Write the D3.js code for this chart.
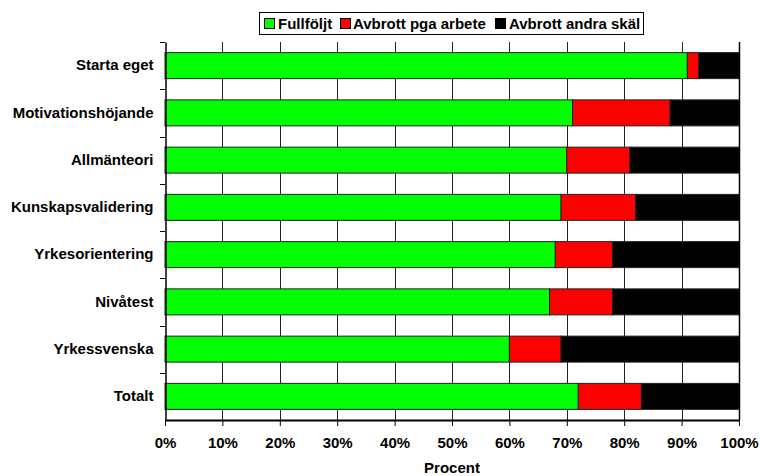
<!DOCTYPE html>
<html><head><meta charset="utf-8">
<script src="https://cdn.jsdelivr.net/npm/d3@7"></script>
<style>body{margin:0;background:#fff}svg{display:block;font-family:"Liberation Sans",Arial,sans-serif;font-weight:bold}</style>
</head><body><svg id="c" width="760" height="476"></svg>
<script>
const categories=["Starta eget","Motivationshöjande","Allmänteori","Kunskapsvalidering","Yrkesorientering","Nivåtest","Yrkessvenska","Totalt"];
const fullfoljt=[91,71,70,69,68,67,60,72];
const avbrottArbete=[2,17,11,13,10,11,9,11];
const avbrottAndra=[7,12,19,18,22,22,31,17];
const seriesNames=["Fullföljt","Avbrott pga arbete","Avbrott andra skäl"];
const colors=["#00ff00","#ff0000","#000000"];
const tickValues=[0,10,20,30,40,50,60,70,80,90,100];

const svg=d3.select("#c");
const m={l:165,r:739,t:42,b:420};
const x=d3.scaleLinear().domain([0,100]).range([m.l,m.r]);
const y=d3.scaleBand().domain(categories).range([m.t,m.b]).paddingInner(0.45).paddingOuter(0.225);
const yb=d3.scaleBand().domain(categories).range([m.t,m.b]);
const FONT="Liberation Sans, Arial, sans-serif";

// gridlines
svg.append("g").selectAll("line").data(tickValues.slice(1)).join("line")
 .attr("x1",d=>Math.round(x(d))+0.5).attr("x2",d=>Math.round(x(d))+0.5)
 .attr("y1",m.t).attr("y2",m.b).attr("stroke","#222").attr("stroke-width",1);

const data=categories.map((c,i)=>({cat:c,v:[fullfoljt[i],avbrottArbete[i],avbrottAndra[i]]}));
const stack=d3.stack().keys([0,1,2]).value((d,k)=>d.v[k]);
const st=stack(data);
svg.append("g").selectAll("g").data(st).join("g").attr("fill",(d,i)=>colors[i])
 .selectAll("rect").data(d=>d).join("rect")
 .attr("x",d=>x(d[0])).attr("width",d=>x(d[1])-x(d[0]))
 .attr("y",d=>y(d.data.cat)).attr("height",y.bandwidth())
 .attr("stroke","#222").attr("stroke-width",1);

// left axis
const ya=d3.axisLeft(yb).tickSize(0).tickPadding(12);
const gy=svg.append("g").attr("transform",`translate(${m.l+0.5},0)`).call(ya);
gy.attr("font-size",15).attr("font-family",FONT).attr("font-weight","bold");
gy.select(".domain").attr("stroke","#000").attr("stroke-width",1.5);
gy.selectAll("text").attr("fill","#000");
// left ticks at band boundaries
svg.append("g").selectAll("line").data(categories).join("line")
 .attr("x1",m.l-5).attr("x2",m.l).attr("y1",d=>Math.round(yb(d))+0.5).attr("y2",d=>Math.round(yb(d))+0.5)
 .attr("stroke","#000");
// right border
svg.append("line").attr("x1",m.r+0.5).attr("x2",m.r+0.5).attr("y1",m.t).attr("y2",m.b).attr("stroke","#000").attr("stroke-width",1.5);

// bottom axis
const xa=d3.axisBottom(x).tickValues(tickValues).tickFormat(d=>d+"%").tickSize(6).tickSizeOuter(0).tickPadding(11);
const gx=svg.append("g").attr("transform",`translate(0,${m.b})`).call(xa);
gx.attr("font-size",15).attr("font-family",FONT).attr("font-weight","bold");
gx.select(".domain").attr("stroke","#000").attr("stroke-width",2);
gx.selectAll(".tick line").attr("stroke","#000");
gx.selectAll("text").attr("fill","#000");

svg.append("text").attr("x",(m.l+m.r)/2).attr("y",473).attr("text-anchor","middle").attr("font-size",15).text("Procent");

// legend
const lg=svg.append("g");
lg.append("rect").attr("x",259.5).attr("y",12.5).attr("width",384).attr("height",22).attr("fill","#fff").attr("stroke","#000");
const items=[{x:264,tx:278},{x:340,tx:353},{x:495,tx:509}];
items.forEach((it,i)=>{
 lg.append("rect").attr("x",it.x+0.5).attr("y",18.5).attr("width",10).attr("height",10).attr("fill",colors[i]).attr("stroke","#000");
 lg.append("text").attr("x",it.tx).attr("y",29).attr("font-size",15).text(seriesNames[i]);
});
</script></body></html>
